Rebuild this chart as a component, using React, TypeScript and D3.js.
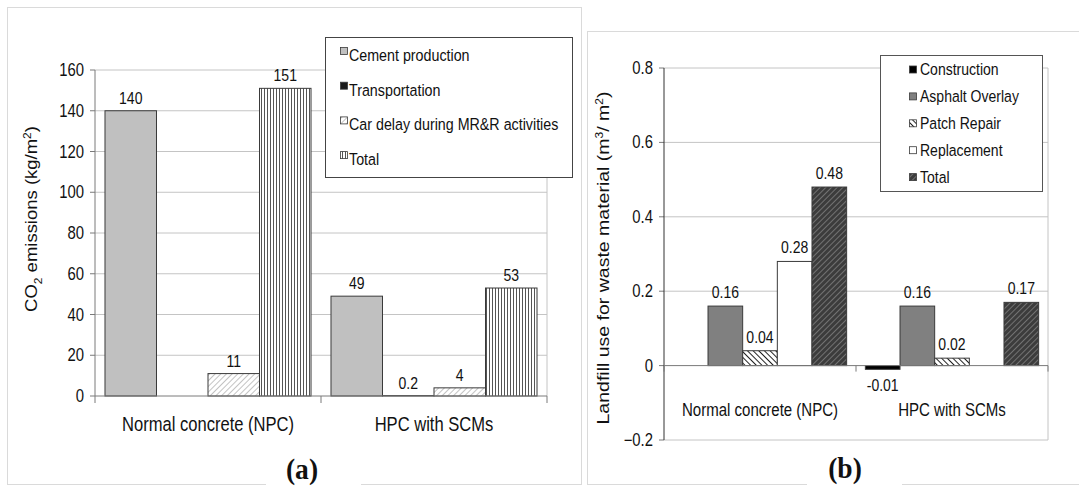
import * as d3 from "d3";

// ---- panel (a) data
const catsA = ["Normal concrete (NPC)", "HPC with SCMs"];
const seriesA = ["Cement production", "Transportation", "Car delay during MR&R activities", "Total"];
const valuesA: (number | null)[][] = [
  [140, null, 11, 151],
  [49, 0.2, 4, 53],
];
const labelsA = [
  ["140", "", "11", "151"],
  ["49", "0.2", "4", "53"],
];
const ticksA = [0, 20, 40, 60, 80, 100, 120, 140, 160];

// ---- panel (b) data
const catsB = ["Normal concrete (NPC)", "HPC with SCMs"];
const seriesB = ["Construction", "Asphalt Overlay", "Patch Repair", "Replacement", "Total"];
const valuesB: (number | null)[][] = [
  [null, 0.16, 0.04, 0.28, 0.48],
  [-0.01, 0.16, 0.02, null, 0.17],
];
const labelsB = [
  ["", "0.16", "0.04", "0.28", "0.48"],
  ["-0.01", "0.16", "0.02", "", "0.17"],
];
const ticksB = [-0.2, 0, 0.2, 0.4, 0.6, 0.8];

const fillA = ["#c0c0c0", "#1a1a1a", "url(#hatchA)", "url(#vertA)"];
const fillB = ["#000000", "#808080", "url(#patchB)", "#ffffff", "url(#totalB)"];

const FONT = "'Liberation Sans', Arial, sans-serif";
const SX = 0.85; // text in the picture is squeezed horizontally

const Txt = ({
  x, y, size, anchor = "middle", rot = false, bold = false, family = FONT, sx = SX, children,
}: any) => (
  <text
    transform={`translate(${x},${y}) scale(${sx},1)${rot ? " rotate(-90)" : ""}`}
    textAnchor={anchor}
    fontSize={size}
    fontFamily={family}
    fontWeight={bold ? "bold" : "normal"}
    fill="#111"
  >
    {children}
  </text>
);

const App = () => {
  // panel a scales
  const xA = d3.scaleBand().domain(catsA).range([95, 547]);
  const subA = d3.scaleBand().domain(seriesA).range([0, xA.bandwidth()]).paddingOuter(0.194);
  const yA = d3.scaleLinear().domain([0, 160]).range([396, 70]);

  // panel b scales
  const xB = d3.scaleBand().domain(catsB).range([664, 1048]);
  const subB = d3.scaleBand().domain(seriesB).range([0, xB.bandwidth()]).paddingOuter(0.27);
  const yB = d3.scaleLinear().domain([-0.2, 0.8]).range([440, 68]);

  const grid = "#c4c4c4";
  const axis = "#7a7a7a";
  const barStroke = "#3a3a3a";

  return (
    <svg width={1079} height={490} style={{ position: "absolute", left: 0, top: 0, background: "#fff" }}>
      <defs>
        <pattern id="hatchA" width={4} height={4} patternUnits="userSpaceOnUse" patternTransform="rotate(45)">
          <rect width={4} height={4} fill="#fff" />
          <line x1={0} y1={0} x2={0} y2={4} stroke="#9a9a9a" strokeWidth={1.2} />
        </pattern>
        <pattern id="vertA" width={3} height={3} patternUnits="userSpaceOnUse">
          <rect width={3} height={3} fill="#fff" />
          <line x1={0.5} y1={0} x2={0.5} y2={3} stroke="#555" strokeWidth={1} />
        </pattern>
        <pattern id="patchB" width={4} height={4} patternUnits="userSpaceOnUse" patternTransform="rotate(-45)">
          <rect width={4} height={4} fill="#fff" />
          <line x1={0} y1={0} x2={0} y2={4} stroke="#222" strokeWidth={2} />
        </pattern>
        <pattern id="totalB" width={4} height={4} patternUnits="userSpaceOnUse" patternTransform="rotate(45)">
          <rect width={4} height={4} fill="#3c3c3c" />
          <line x1={0} y1={0} x2={0} y2={4} stroke="#a8a8a8" strokeWidth={1} />
        </pattern>
      </defs>

      {/* frames */}
      <rect x={7.5} y={7.5} width={574} height={477} fill="none" stroke="#dadada" />
      <rect x={587.5} y={31.5} width={500} height={453} fill="none" stroke="#dadada" />

      {/* ================= panel (a) ================= */}
      {ticksA.map((t) => (
        <g key={t}>
          {t > 0 && <line x1={95} x2={547} y1={yA(t)} y2={yA(t)} stroke={grid} />}
          <line x1={90} x2={95} y1={yA(t)} y2={yA(t)} stroke={axis} />
          <Txt x={84} y={yA(t) + 6} size={17.5} anchor="end">{t}</Txt>
        </g>
      ))}
      <line x1={547} x2={547} y1={yA(160)} y2={yA(0)} stroke={grid} />
      <line x1={95} x2={95} y1={yA(160)} y2={yA(0)} stroke={axis} />

      {catsA.map((c, ci) => (
        <g key={c}>
          {seriesA.map((s, si) => {
            const v = valuesA[ci][si];
            if (v == null) return null;
            const x0 = (xA(c) ?? 0) + (subA(s) ?? 0);
            return (
              <g key={s}>
                <rect x={x0} y={yA(v)} width={subA.bandwidth()} height={yA(0) - yA(v)}
                  fill={fillA[si]} stroke={barStroke} strokeWidth={1} />
                <Txt x={x0 + subA.bandwidth() / 2} y={yA(v) - 7} size={16.5}>{labelsA[ci][si]}</Txt>
              </g>
            );
          })}
          <Txt x={(xA(c) ?? 0) + xA.bandwidth() / 2} y={431} size={19.5}>{c}</Txt>
        </g>
      ))}
      <line x1={95} x2={547} y1={yA(0)} y2={yA(0)} stroke={axis} />
      {[95, 95 + xA.bandwidth(), 547].map((x) => (
        <line key={x} x1={x} x2={x} y1={yA(0)} y2={yA(0) + 7} stroke={axis} />
      ))}

      <text transform="translate(37,219) scale(0.9,1) rotate(-90)" textAnchor="middle" fontSize={18.5} fontFamily={FONT} fill="#111">
        CO<tspan fontSize={12} dy={5}>2</tspan><tspan dy={-5}> emissions (kg/m</tspan>
        <tspan fontSize={12} dy={-7}>2</tspan><tspan dy={7}>)</tspan>
      </text>

      {/* legend a */}
      <rect x={325.5} y={37.5} width={247} height={140} fill="#fff" stroke="#444" />
      {seriesA.map((s, i) => (
        <g key={s}>
          <rect x={340.5} y={55 + i * 34.7 - 7.5} width={7} height={7} fill={fillA[i]} stroke={barStroke} strokeWidth={0.8} />
          <Txt x={349} y={61 + i * 34.7} size={16.8} anchor="start">{s}</Txt>
        </g>
      ))}

      <rect x={266} y={478} width={95} height={12} fill="#fff" />
      <Txt x={302} y={479} size={29} bold family="'Liberation Serif', 'Times New Roman', serif" sx={0.95}>(a)</Txt>

      {/* ================= panel (b) ================= */}
      {ticksB.map((t) => (
        <g key={t}>
          {t !== 0 && <line x1={664} x2={1048} y1={yB(t)} y2={yB(t)} stroke={grid} />}
          <line x1={659} x2={664} y1={yB(t)} y2={yB(t)} stroke={axis} />
          <Txt x={653} y={yB(t) + 6} size={17.5} anchor="end">{d3.format("")(+t.toFixed(1))}</Txt>
        </g>
      ))}
      <line x1={1048} x2={1048} y1={yB(0.8)} y2={yB(-0.2)} stroke={grid} />
      <line x1={664} x2={664} y1={yB(0.8)} y2={yB(-0.2)} stroke={"#333"} />

      {catsB.map((c, ci) => (
        <g key={c}>
          {seriesB.map((s, si) => {
            const v = valuesB[ci][si];
            if (v == null) return null;
            const x0 = (xB(c) ?? 0) + (subB(s) ?? 0);
            const top = yB(Math.max(v, 0));
            const bot = yB(Math.min(v, 0));
            return (
              <g key={s}>
                <rect x={x0} y={top} width={subB.bandwidth()} height={Math.max(bot - top, 1)}
                  fill={fillB[si]} stroke={barStroke} strokeWidth={1} />
                <Txt x={x0 + subB.bandwidth() / 2} y={v < 0 ? bot + 22 : top - 8} size={16.5}>{labelsB[ci][si]}</Txt>
              </g>
            );
          })}
          <Txt x={(xB(c) ?? 0) + xB.bandwidth() / 2} y={416} size={17.7}>{c}</Txt>
        </g>
      ))}
      <line x1={664} x2={1048} y1={yB(0)} y2={yB(0)} stroke={axis} />
      {[664, 664 + xB.bandwidth(), 1048].map((x) => (
        <line key={x} x1={x} x2={x} y1={yB(0)} y2={yB(0) + 6} stroke={axis} />
      ))}

      <text transform="translate(609,258) scale(0.88,1) rotate(-90)" textAnchor="middle" fontSize={19.5} fontFamily={FONT} fill="#111">
        Landfill use for waste material (m<tspan fontSize={12} dy={-7}>3</tspan><tspan dy={7}>/ m</tspan>
        <tspan fontSize={12} dy={-7}>2</tspan><tspan dy={7}>)</tspan>
      </text>

      {/* legend b */}
      <rect x={880.5} y={55.5} width={162} height={136} fill="#fff" stroke="#555" />
      {seriesB.map((s, i) => (
        <g key={s}>
          <rect x={909.5} y={75 + i * 26.9 - 9} width={7} height={7} fill={fillB[i]} stroke={barStroke} strokeWidth={0.8} />
          <Txt x={920} y={75 + i * 26.9} size={16.5} anchor="start">{s}</Txt>
        </g>
      ))}

      <rect x={807} y={478} width={95} height={12} fill="#fff" />
      <Txt x={845} y={478} size={29} bold family="'Liberation Serif', 'Times New Roman', serif" sx={0.95}>(b)</Txt>
    </svg>
  );
};

export default App;
